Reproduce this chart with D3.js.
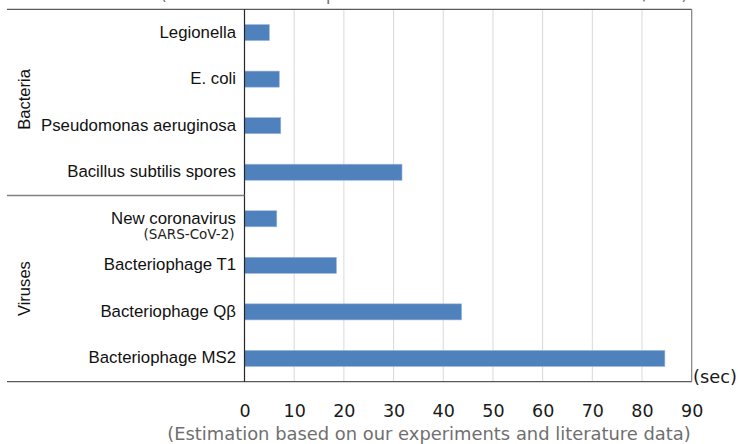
<!DOCTYPE html>
<html><head><meta charset="utf-8">
<script src="https://cdn.jsdelivr.net/npm/d3@7"></script>
<style>html,body{margin:0;padding:0;background:#fff;overflow:hidden}</style>
</head><body>
<svg id="c" width="739" height="444"></svg>
<script>
const categories = ["Legionella","E. coli","Pseudomonas aeruginosa","Bacillus subtilis spores","New coronavirus","Bacteriophage T1","Bacteriophage Qβ","Bacteriophage MS2"];
const subLabels = ["","","","","(SARS-CoV-2)","","",""];
const values = [5.0, 7.0, 7.3, 31.7, 6.5, 18.5, 43.7, 84.6];
const groups = ["Bacteria","Viruses"];
const groupSizes = [4, 4];
const xTicks = [0,10,20,30,40,50,60,70,80,90];
const unitLabel = "(sec)";
const topNote = "(Irradiation time required for 99.9% inactivation at 1 mW/cm²)";
const bottomNote = "(Estimation based on our experiments and literature data)";

const svg = d3.select("#c");
const L = 244.5, R = 691.7, T = 9.3, B = 381.7, outerL = 7;
const x = d3.scaleLinear().domain([0, 90]).range([L, R]);
const y = d3.scaleBand().domain(categories).range([T, B]).paddingInner(0.655).paddingOuter(0.3275);

// grid
svg.append("g").selectAll("line").data(xTicks.filter(t => t > 0 && t < 90)).join("line")
  .attr("x1", d => x(d)).attr("x2", d => x(d)).attr("y1", T).attr("y2", B)
  .attr("stroke", "#d9d9d9").attr("stroke-width", 1);

// bars
svg.append("g").selectAll("rect").data(categories).join("rect")
  .attr("x", x(0)).attr("y", (d) => y(d))
  .attr("width", (d, i) => x(values[i]) - x(0)).attr("height", y.bandwidth())
  .attr("fill", "#4f81bd").attr("stroke", "#9bb7dc").attr("stroke-width", 0.6);

// frame
svg.append("line").attr("x1", outerL).attr("x2", R).attr("y1", T).attr("y2", T).attr("stroke", "#595959").attr("stroke-width", 1.3);
svg.append("line").attr("x1", outerL).attr("x2", R).attr("y1", B).attr("y2", B).attr("stroke", "#595959").attr("stroke-width", 1.3);
svg.append("line").attr("x1", R).attr("x2", R).attr("y1", T).attr("y2", B).attr("stroke", "#808080").attr("stroke-width", 1.2);
svg.append("line").attr("x1", L).attr("x2", L).attr("y1", T).attr("y2", B).attr("stroke", "#262626").attr("stroke-width", 1.2);

// group separator
let acc = 0;
const step = y.step();
groups.forEach((g, gi) => {
  const start = T + acc * step;
  acc += groupSizes[gi];
  const end = T + acc * step;
  if (gi < groups.length - 1) {
    svg.append("line").attr("x1", outerL).attr("x2", L).attr("y1", end).attr("y2", end)
      .attr("stroke", "#808080").attr("stroke-width", 1.3);
  }
  const cy = (start + end) / 2 - (gi === 0 ? 3 : 0);
  svg.append("text").attr("transform", `translate(29.5,${cy}) rotate(-90)`)
    .attr("text-anchor", "middle").attr("font-family", "Liberation Sans, Arial, sans-serif")
    .attr("font-size", 16.6).attr("fill", "#111").text(g);
});

// category labels
categories.forEach((c, i) => {
  const cy = y(c) + y.bandwidth() / 2;
  svg.append("text").attr("x", 236).attr("y", cy + 5)
    .attr("text-anchor", "end").attr("font-family", "Liberation Sans, Arial, sans-serif")
    .attr("font-size", 16.8).attr("fill", "#111").text(c);
  if (subLabels[i]) {
    svg.append("text").attr("x", 234.5).attr("y", cy + 20.5)
      .attr("text-anchor", "end").attr("font-family", "DejaVu Sans, sans-serif")
      .attr("font-size", 13.5).attr("fill", "#222").text(subLabels[i]);
  }
});

// x axis tick labels
const ax = svg.append("g").attr("transform", `translate(0,${B})`)
  .call(d3.axisBottom(x).tickValues(xTicks).tickSize(0).tickPadding(0));
ax.select(".domain").remove();
ax.selectAll("text").attr("y", 35).attr("dy", 0)
  .attr("font-family", "DejaVu Sans, sans-serif").attr("font-size", 17.5).attr("fill", "#1a1a1a");

svg.append("text").attr("x", 693).attr("y", 383)
  .attr("font-family", "DejaVu Sans, sans-serif").attr("font-size", 17.8).attr("fill", "#1a1a1a").text(unitLabel);

function fitText(sel, w) {
  const len = sel.node().getComputedTextLength();
  const fs = +sel.attr("font-size");
  sel.attr("font-size", fs * w / len);
}
const bn = svg.append("text").attr("x", 429).attr("y", 440).attr("text-anchor", "middle")
  .attr("font-family", "DejaVu Sans, sans-serif").attr("font-size", 17).attr("fill", "#6f6f6f").text(bottomNote);
fitText(bn, 524);
const tn = svg.append("text").attr("x", 424).attr("y", -0.5).attr("text-anchor", "middle")
  .attr("font-family", "DejaVu Sans, sans-serif").attr("font-size", 17).attr("fill", "#6f6f6f").text(topNote);
fitText(tn, 528);
</script>
</body></html>
